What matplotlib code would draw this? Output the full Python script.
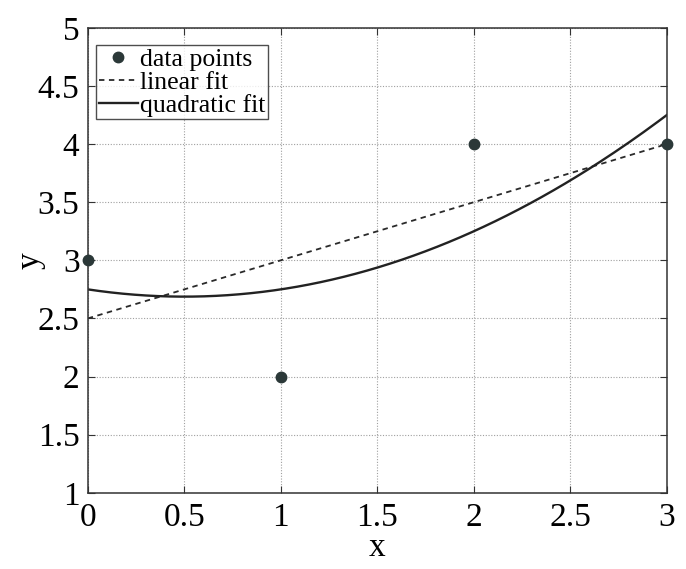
import numpy as np
import matplotlib
matplotlib.use("Agg")
import matplotlib.pyplot as plt

x_data = [0, 1, 2, 3]
y_data = [3, 2, 4, 4]
x_ticks = [0, 0.5, 1, 1.5, 2, 2.5, 3]
y_ticks = [1, 1.5, 2, 2.5, 3, 3.5, 4, 4.5, 5]
x_tick_labels = ["0", "0.5", "1", "1.5", "2", "2.5", "3"]
y_tick_labels = ["1", "1.5", "2", "2.5", "3", "3.5", "4", "4.5", "5"]

plt.rcParams['font.family'] = ['Liberation Serif', 'DejaVu Serif']

fig = plt.figure(figsize=(6.86, 5.69), dpi=100)
ax = fig.add_axes([0.128, 0.134, 0.844, 0.817])

lin = np.polyfit(x_data, y_data, 1)
quad = np.polyfit(x_data, y_data, 2)
xs = np.linspace(0, 3, 200)

ax.plot(x_data, y_data, 'o', color='#2b3838', markersize=7.5, label='data points', zorder=5, clip_on=False)
ax.plot(xs, np.polyval(lin, xs), '--', color='#2a2a2a', linewidth=1.3, dashes=(3, 2.5), label='linear fit')
ax.plot(xs, np.polyval(quad, xs), '-', color='#222222', linewidth=1.7, label='quadratic fit')

ax.set_xlim(0, 3)
ax.set_ylim(1, 5)
ax.set_xticks(x_ticks)
ax.set_xticklabels(x_tick_labels)
ax.set_yticks(y_ticks)
ax.set_yticklabels(y_tick_labels)
ax.tick_params(direction='in', labelsize=24, length=5, top=True, right=True, color='#333333')
ax.tick_params(axis='x', pad=7)
ax.tick_params(axis='y', pad=6)
ax.grid(True, linestyle=(0, (1, 1.5)), color='#a0a0a0', linewidth=0.8)
for s in ax.spines.values():
    s.set_color('#333333')
    s.set_linewidth(1.1)

ax.set_xlabel('x', fontsize=24, labelpad=0)
ax.set_ylabel('y', fontsize=24, labelpad=-6)

leg = ax.legend(loc='upper left', bbox_to_anchor=(0.015, 0.963), fontsize=18.5, frameon=True,
                fancybox=False, edgecolor='#222222', borderpad=0.1, labelspacing=0.0,
                handlelength=1.5, handletextpad=0.1, borderaxespad=0.0)
leg.get_frame().set_linewidth(1.0)

fig.savefig('out.png', dpi=100)
